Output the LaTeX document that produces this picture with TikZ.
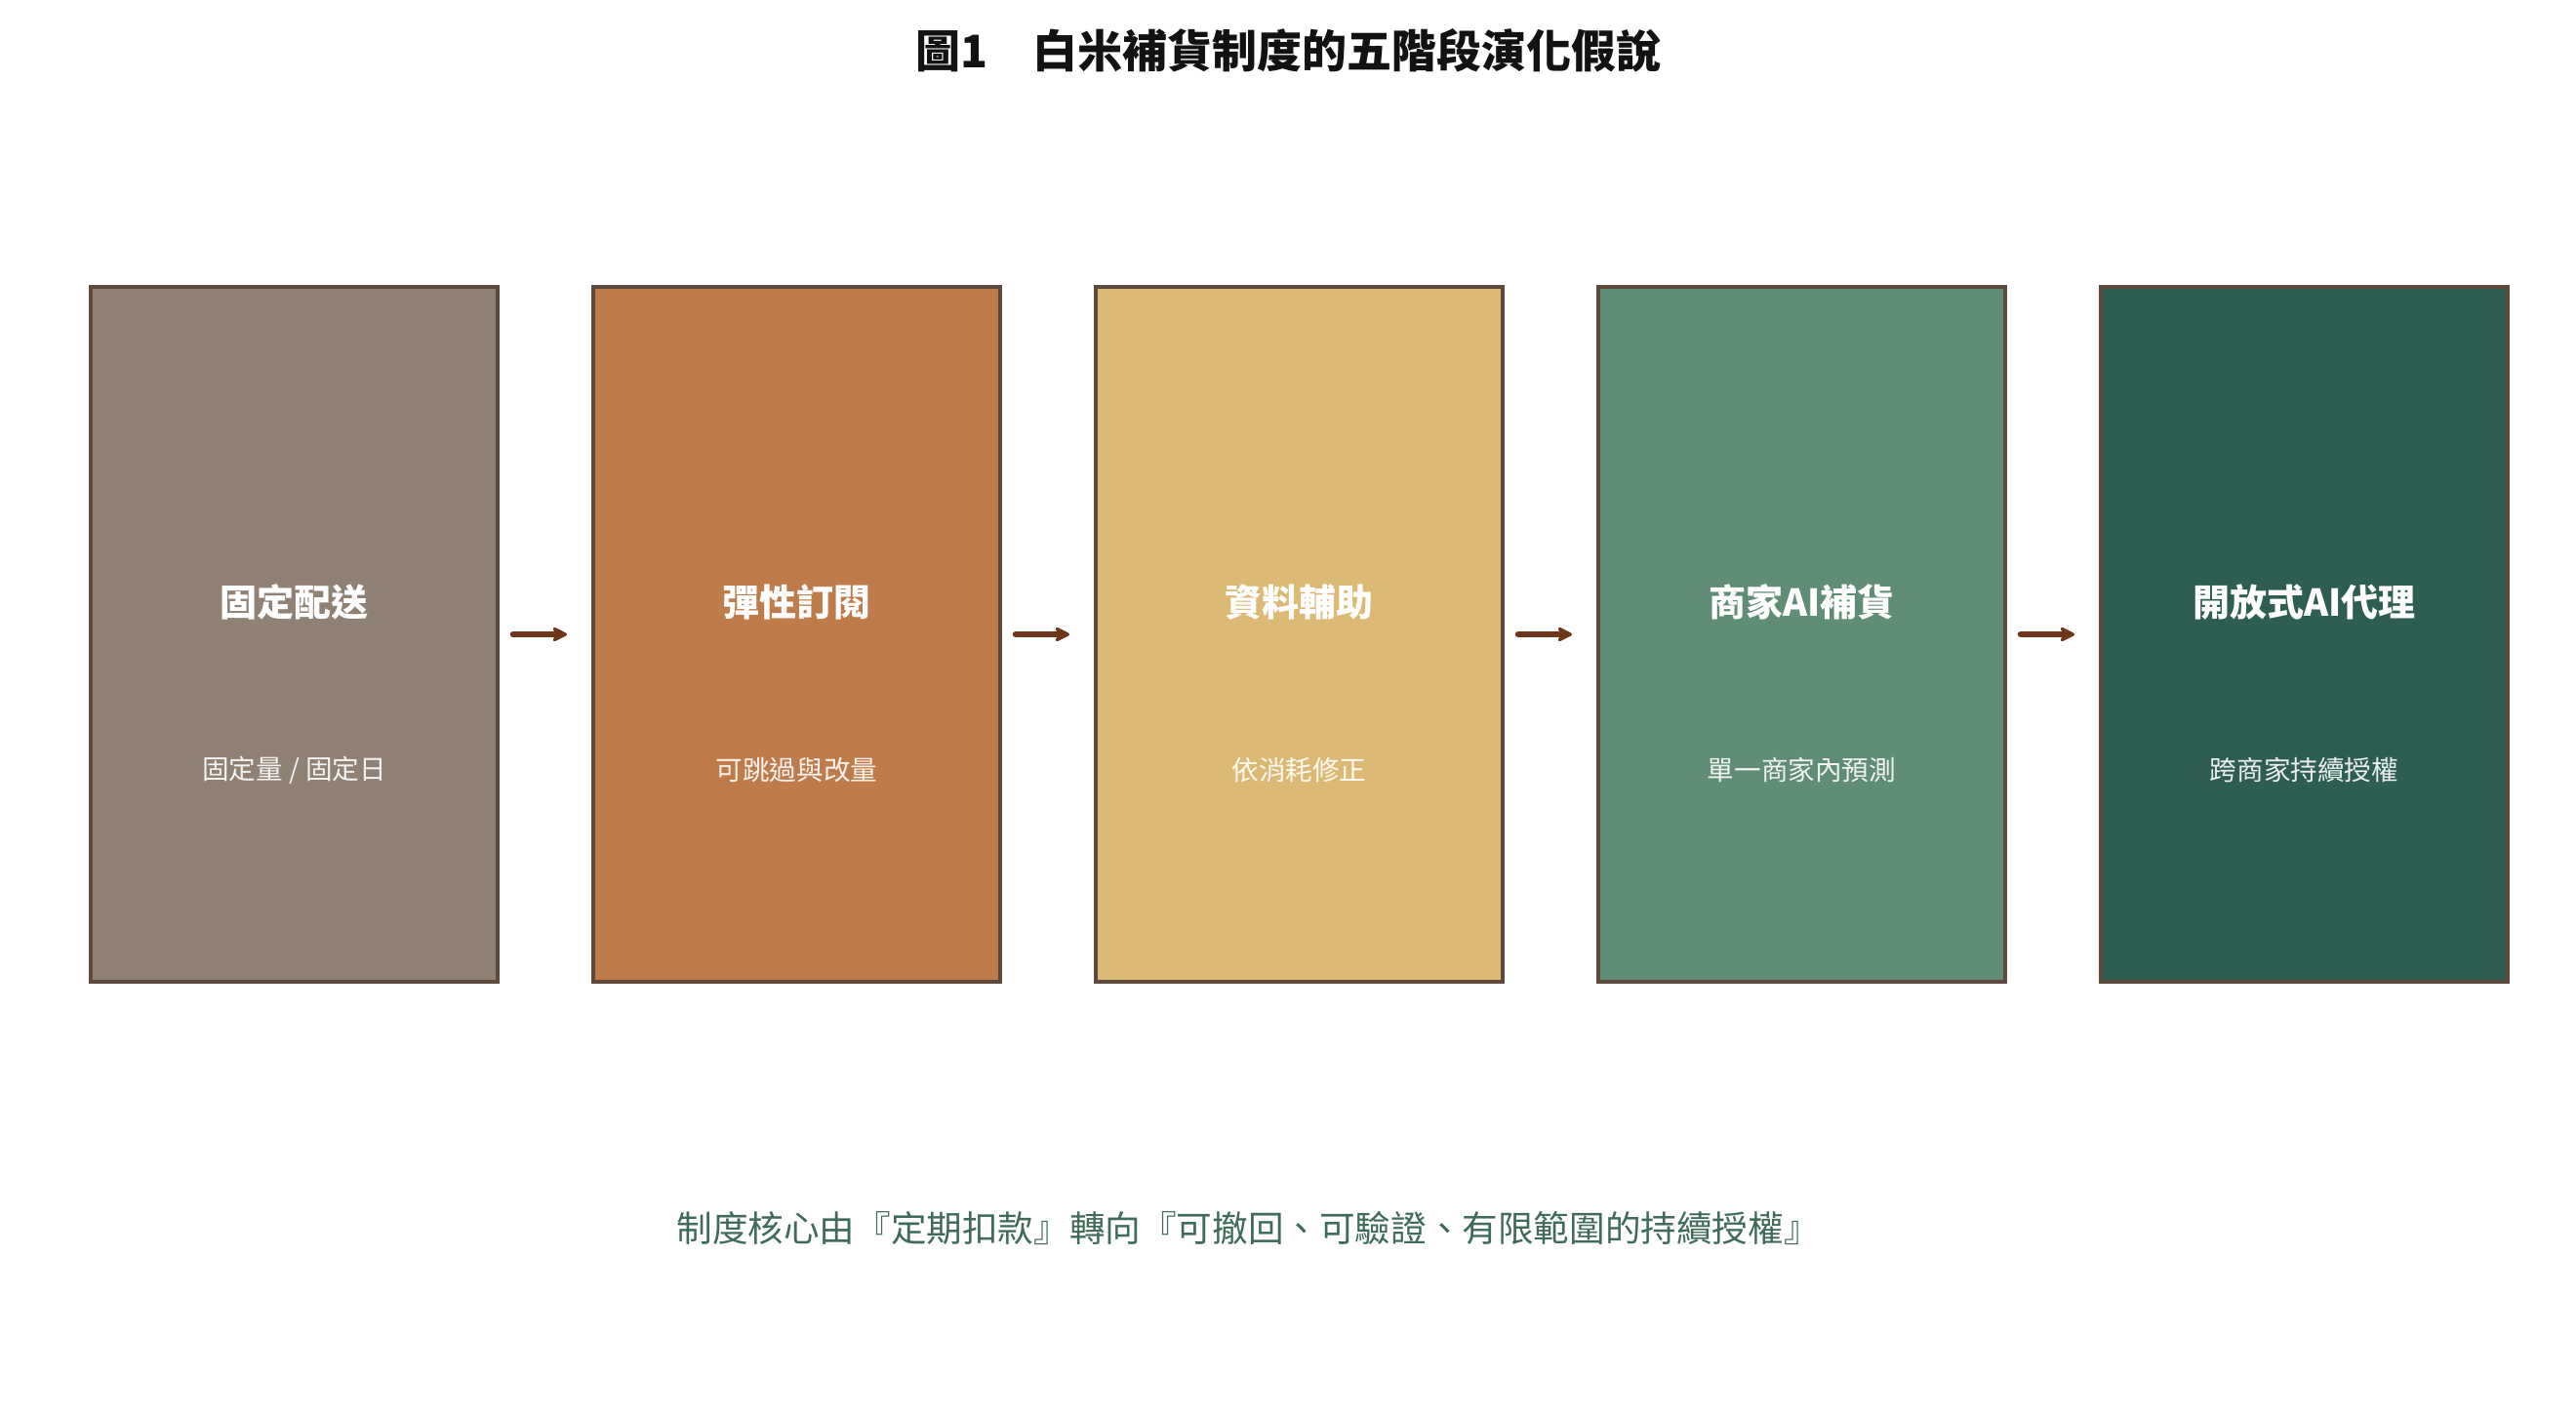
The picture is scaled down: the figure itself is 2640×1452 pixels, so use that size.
\documentclass[tikz,border=0pt]{standalone}
\usepackage{fontspec}
\setmainfont{Noto Sans CJK TC}
\usetikzlibrary{arrows.meta}
\definecolor{edgebrown}{HTML}{5D4A3C}
\definecolor{arrowbrown}{HTML}{6E3519}
\definecolor{stgone}{HTML}{8F8173}
\definecolor{stgtwo}{HTML}{BF7C4A}
\definecolor{stgthree}{HTML}{DDB976}
\definecolor{stgfour}{HTML}{5F8D75}
\definecolor{stgfive}{HTML}{2E5E52}
\definecolor{notegreen}{HTML}{3F6B58}
\newcommand*{\boxwd}{208.5pt}
\newcommand*{\boxht}{356pt}
\newcommand*{\boxy }{650}
\newcommand*{\heady}{617}
\newcommand*{\suby }{789}

\begin{document}
\begin{tikzpicture}[x=0.5pt, y=-0.5pt,
    stage/.style={draw=edgebrown, line width=2pt, minimum width=\boxwd, minimum height=\boxht, inner sep=0pt},
    headtxt/.style={text=white, font=\bfseries\fontsize{19}{23}\selectfont},
    subtxt/.style={text=white, text opacity=0.9, font=\fontsize{13.8}{16}\selectfont},
    arr/.style={draw=arrowbrown, line width=3.3pt, line cap=round, -{Stealth[length=9.5pt, width=9.5pt, round]}}]
    \useasboundingbox (0,0) rectangle (2640,1452);
    \node [font=\bfseries\fontsize{23}{28}\selectfont, text=black!93] (title) at (1320,52) {圖1　白米補貨制度的五階段演化假說};
        \node [stage, fill=stgone  ] (fixed) at ( 301.5,\boxy) {};
        \node [stage, fill=stgtwo  ] (flex) at ( 816.5,\boxy) {};
        \node [stage, fill=stgthree] (data) at (1331.5,\boxy) {};
        \node [stage, fill=stgfour ] (merch) at (1846.5,\boxy) {};
        \node [stage, fill=stgfive ] (open) at (2361.5,\boxy) {};
        \node [headtxt] (fixedhead) at ( 301.5,\heady) {固定配送};
        \node [headtxt] (flexhead) at ( 816.5,\heady) {彈性訂閱};
        \node [headtxt] (datahead) at (1331.5,\heady) {資料輔助};
        \node [headtxt] (merchhead) at (1846.5,\heady) {商家AI補貨};
        \node [headtxt] (openhead) at (2361.5,\heady) {開放式AI代理};
        \node [subtxt] (fixedsub) at ( 301.5,\suby) {固定量 / 固定日};
        \node [subtxt] (flexsub) at ( 816.5,\suby) {可跳過與改量};
        \node [subtxt] (datasub) at (1331.5,\suby) {依消耗修正};
        \node [subtxt] (merchsub) at (1846.5,\suby) {單一商家內預測};
        \node [subtxt] (opensub) at (2361.5,\suby) {跨商家持續授權};
        \draw [arr] ([xshift=7pt]fixed.east) -- ([xshift=-12.5pt]flex.west);
        \draw [arr] ([xshift=7pt]flex.east) -- ([xshift=-12.5pt]data.west);
        \draw [arr] ([xshift=7pt]data.east) -- ([xshift=-12.5pt]merch.west);
        \draw [arr] ([xshift=7pt]merch.east) -- ([xshift=-12.5pt]open.west);
    \node [text=notegreen, font=\fontsize{18.3}{22}\selectfont] (note) at (1279,1258) {制度核心由『定期扣款』轉向『可撤回、可驗證、有限範圍的持續授權』};
    %\draw [red] (0,0) rectangle (2640,1452);
\end{tikzpicture}
\end{document}
